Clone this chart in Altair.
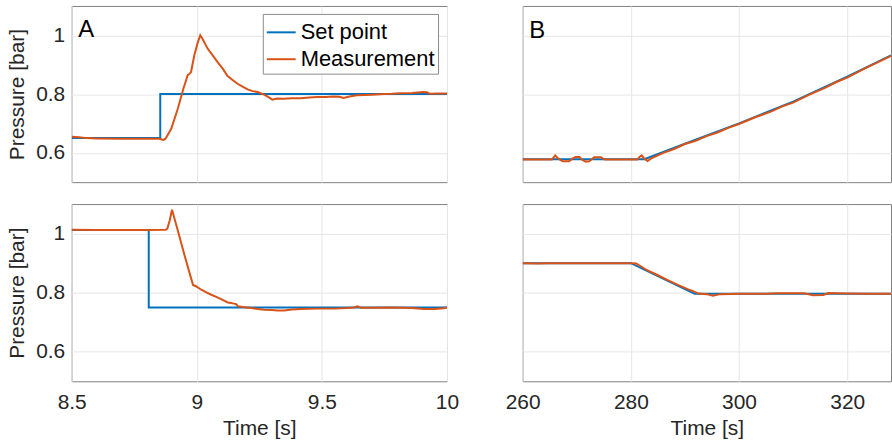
import altair as alt
import pandas as pd

FONT = "Liberation Sans"
SERIES = ["Set point", "Measurement"]
COLORS = ["#0072BD", "#D95319"]

# Panel A (top): step 0.65 -> 0.8 bar
spA1_t = [8.5, 8.854, 8.854, 10.0]
spA1_p = [0.65, 0.65, 0.80, 0.80]
mA1_t = [8.5, 8.53, 8.56, 8.60, 8.70, 8.80, 8.85, 8.866, 8.875, 8.898,
         8.924, 8.947, 8.964, 8.970, 8.977, 8.990, 9.004, 9.014, 9.025, 9.044,
         9.065, 9.084, 9.105, 9.123, 9.143, 9.163, 9.183, 9.203, 9.223, 9.243,
         9.269, 9.290, 9.302, 9.320, 9.348, 9.380, 9.415, 9.450, 9.481, 9.515,
         9.547, 9.570, 9.587, 9.610, 9.640, 9.700, 9.746, 9.780, 9.813, 9.860,
         9.905, 9.920, 9.932, 9.960, 10.0]
mA1_p = [0.655, 0.653, 0.650, 0.649, 0.648, 0.648, 0.648, 0.644, 0.648, 0.682,
         0.750, 0.820, 0.865, 0.868, 0.875, 0.931, 0.976, 1.000, 0.985, 0.954,
         0.930, 0.908, 0.885, 0.861, 0.848, 0.835, 0.825, 0.816, 0.810, 0.807,
         0.798, 0.788, 0.781, 0.785, 0.784, 0.786, 0.786, 0.788, 0.790, 0.790,
         0.792, 0.791, 0.787, 0.792, 0.796, 0.798, 0.800, 0.801, 0.803, 0.804,
         0.807, 0.806, 0.801, 0.802, 0.802]

# Panel A (bottom): step 1.01 -> 0.75 bar
spA2_t = [8.5, 8.808, 8.808, 10.0]
spA2_p = [1.012, 1.012, 0.75, 0.75]
mA2_t = [8.5, 8.6, 8.7, 8.8, 8.875, 8.882, 8.892, 8.901, 8.925, 8.951,
         8.971, 8.985, 8.998, 9.018, 9.040, 9.058, 9.080, 9.097, 9.124, 9.150,
         9.157, 9.164, 9.190, 9.217, 9.245, 9.270, 9.300, 9.323, 9.350, 9.380,
         9.416, 9.480, 9.549, 9.600, 9.628, 9.642, 9.655, 9.700, 9.760, 9.814,
         9.860, 9.907, 9.950, 9.987, 10.0]
mA2_p = [1.013, 1.012, 1.012, 1.012, 1.013, 1.016, 1.045, 1.081, 1.008, 0.927,
         0.867, 0.826, 0.821, 0.810, 0.800, 0.793, 0.785, 0.778, 0.767, 0.763,
         0.761, 0.754, 0.751, 0.748, 0.745, 0.742, 0.741, 0.740, 0.740, 0.743,
         0.745, 0.746, 0.746, 0.748, 0.750, 0.754, 0.749, 0.749, 0.750, 0.749,
         0.748, 0.745, 0.745, 0.747, 0.751]

# Panel B (top): ramp up
spB1_t = [260, 282.5, 290, 300, 310, 320, 328.1]
spB1_p = [0.578, 0.578, 0.631, 0.700, 0.774, 0.859, 0.932]
mB1_t = [260, 265.4, 266.0, 266.6, 267.4, 268.6, 269.2, 269.8, 270.5, 271.1,
         271.7, 272.3, 272.9, 273.2, 274.5, 275.0, 275.4, 281.2, 281.6, 282.0,
         282.5, 283.1, 283.7, 286, 288, 290, 292, 294, 296, 298,
         300, 303, 306, 308, 310, 313, 316, 318, 320, 323,
         326, 328.1]
mB1_p = [0.577, 0.577, 0.591, 0.580, 0.571, 0.571, 0.580, 0.586, 0.586, 0.575,
         0.570, 0.571, 0.580, 0.585, 0.585, 0.578, 0.577, 0.577, 0.586, 0.591,
         0.580, 0.572, 0.580, 0.600, 0.613, 0.630, 0.641, 0.657, 0.669, 0.685,
         0.698, 0.721, 0.741, 0.758, 0.771, 0.798, 0.822, 0.841, 0.856, 0.885,
         0.911, 0.930]

# Panel B (bottom): ramp down
spB2_t = [260, 280, 291.8, 328.1]
spB2_p = [0.900, 0.900, 0.796, 0.796]
mB2_t = [260, 263, 264.5, 270, 280, 281, 283, 285, 287, 289,
         290.5, 291.4, 292.5, 294, 295.2, 296.5, 300, 305, 307, 312,
         313.7, 315.6, 316.5, 320, 324, 328.1]
mB2_p = [0.900, 0.899, 0.900, 0.900, 0.900, 0.899, 0.876, 0.859, 0.841, 0.824,
         0.812, 0.806, 0.797, 0.795, 0.790, 0.795, 0.796, 0.796, 0.798, 0.798,
         0.791, 0.792, 0.799, 0.797, 0.796, 0.796]

Y_TICKS = [0.6, 0.8, 1.0]
XA_TICKS = [8.5, 9, 9.5, 10]
XB_TICKS = [260, 280, 300, 320]


def panel(sp_t, sp_p, m_t, m_p, xdom, xticks, show_x, show_y, label, lx, ly,
          legend, w, h):
    d_sp = pd.DataFrame({"t": sp_t, "p": sp_p, "series": "Set point"})
    d_m = pd.DataFrame({"t": m_t, "p": m_p, "series": "Measurement"})
    xax = dict(values=xticks, format="~g", labels=show_x, grid=True,
               ticks=False, domain=False, labelPadding=10, titlePadding=5,
               labelFlush=False, title="Time [s]" if show_x else "")
    yax = dict(values=Y_TICKS, format="~g", labels=show_y, grid=True,
               ticks=False, domain=False, labelPadding=7, titlePadding=8,
               labelFlush=False, title="Pressure [bar]" if show_y else "")
    x = alt.X("t:Q", scale=alt.Scale(domain=xdom, nice=False, zero=False),
              axis=alt.Axis(**xax))
    y = alt.Y("p:Q", scale=alt.Scale(domain=[0.5, 1.1], nice=False, zero=False),
              axis=alt.Axis(**yax))
    if legend:
        leg = alt.Legend(orient="none", legendX=192, legendY=8, title="",
                         symbolType="stroke", symbolSize=841,
                         symbolStrokeWidth=2, labelFontSize=22, labelFont=FONT,
                         labelColor="#000000", padding=3, rowPadding=-4,
                         labelOffset=4, strokeColor="#8c8c8c",
                         fillColor="white", cornerRadius=0, labelLimit=300)
    else:
        leg = None
    color = alt.Color("series:N", scale=alt.Scale(domain=SERIES, range=COLORS),
                      legend=leg)
    l1 = alt.Chart(d_sp).mark_line(strokeWidth=2, clip=True).encode(
        x=x, y=y, color=color)
    l2 = alt.Chart(d_m).mark_line(strokeWidth=2, clip=True).encode(
        x=x, y=y, color=color)
    txt = alt.Chart(pd.DataFrame({"t": [lx], "p": [ly], "lab": [label]})).mark_text(
        align="left", baseline="alphabetic", fontSize=24, font=FONT,
        color="black").encode(x="t:Q", y="p:Q", text="lab:N")
    return alt.layer(l1, l2, txt).properties(width=w, height=h)


a1 = panel(spA1_t, spA1_p, mA1_t, mA1_p, [8.5, 10], XA_TICKS, False, True,
           "A", 8.526, 0.994, True, 377, 177)
b1 = panel(spB1_t, spB1_p, mB1_t, mB1_p, [260, 328.1], XB_TICKS, False, False,
           "B", 261.2, 0.992, False, 370, 177)
a2 = panel(spA2_t, spA2_p, mA2_t, mA2_p, [8.5, 10], XA_TICKS, True, True,
           "", 8.532, 0.994, False, 377, 178)
b2 = panel(spB2_t, spB2_p, mB2_t, mB2_p, [260, 328.1], XB_TICKS, True, False,
           "", 261.2, 0.992, False, 370, 178)

chart = alt.concat(
    a1, b1, a2, b2, columns=2, spacing={"row": 22, "column": 76},
    bounds="flush",
    padding={"left": 6, "top": 4, "right": 0, "bottom": 0},
    background="white",
).resolve_legend(color="independent").configure_view(
    stroke="#808080", strokeWidth=1
).configure_axis(
    labelFont=FONT, titleFont=FONT, labelFontSize=21, titleFontSize=21,
    labelColor="#262626", titleColor="#262626", titleFontWeight="normal",
    gridColor="#e6e6e6", gridWidth=1
)

chart.save("out.html", embed_options={"renderer": "svg", "actions": False})
